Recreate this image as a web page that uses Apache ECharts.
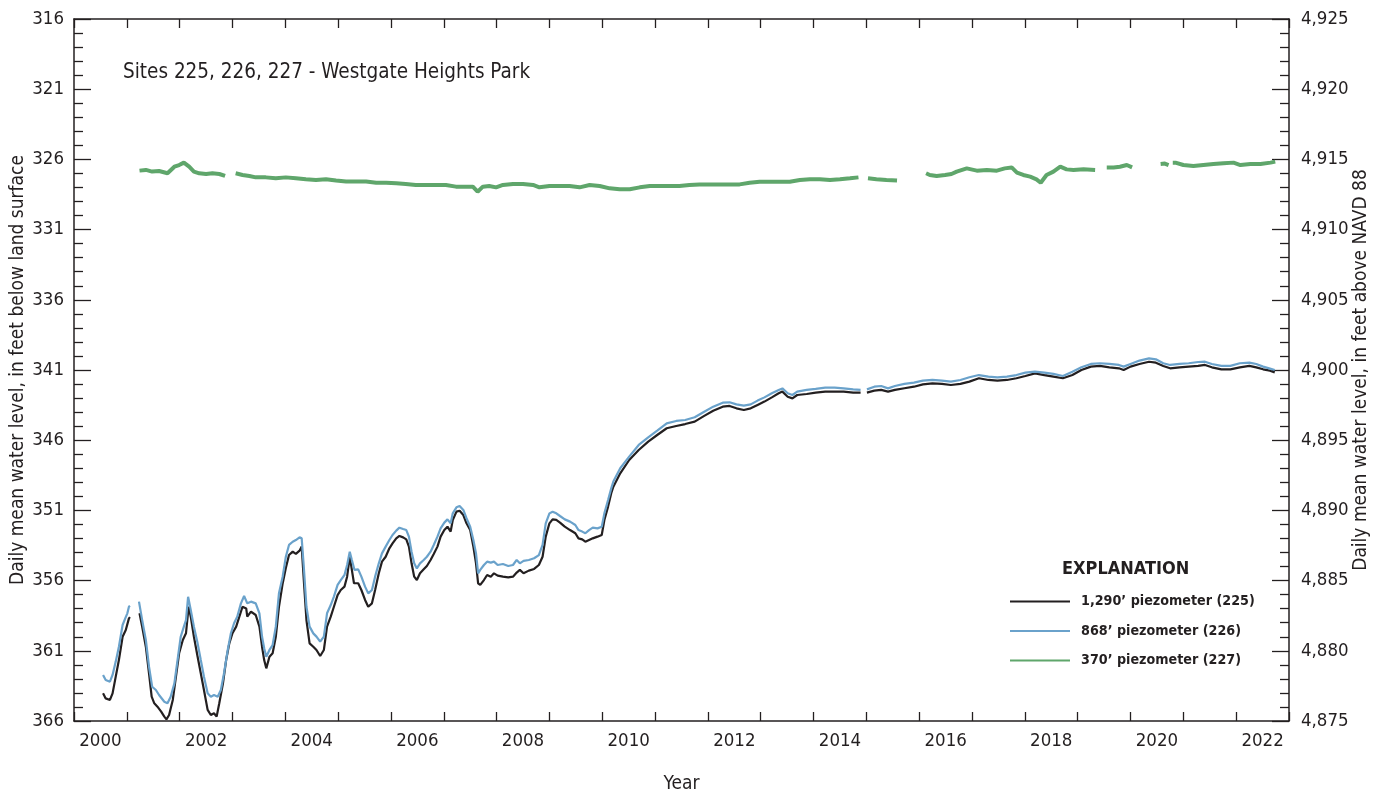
<!DOCTYPE html>
<html>
<head>
<meta charset="utf-8">
<script src="https://cdn.jsdelivr.net/npm/echarts@6/dist/echarts.min.js"></script>
<style>
html,body{margin:0;padding:0;background:#fff;}
#chart{width:1386px;height:793px;}
</style>
</head>
<body>
<div id="chart"></div>
<script>
// ---- Data ----
var xTickLabels = ['2000','2001','2002','2003','2004','2005','2006','2007','2008','2009','2010','2011',
  '2012','2013','2014','2015','2016','2017','2018','2019','2020','2021','2022'];

// 1,290' piezometer (225) - black
var years225 = [2000.55,2000.60,2000.68,2000.73,2000.79,2000.85,2000.92,2000.98,2001.04,2001.06,2001.14,
  2001.24,2001.29,2001.36,2001.42,2001.47,2001.52,2001.58,2001.65,2001.71,2001.75,2001.80,2001.87,2001.93,2001.99,
  2002.06,2002.12,2002.17,2002.21,2002.27,2002.34,2002.40,2002.46,2002.53,2002.59,2002.65,2002.70,2002.75,2002.82,
  2002.88,2002.94,2003.00,2003.07,2003.13,2003.19,2003.26,2003.28,2003.35,2003.44,2003.51,2003.56,2003.60,2003.64,
  2003.70,2003.76,2003.82,2003.88,2003.95,2004.01,2004.07,2004.14,2004.20,2004.27,2004.31,2004.35,2004.40,2004.46,
  2004.53,2004.59,2004.66,2004.73,2004.79,2004.86,2004.92,2004.99,2005.05,2005.12,2005.17,2005.22,2005.25,2005.30,
  2005.38,2005.44,2005.51,2005.57,2005.64,2005.70,2005.77,2005.83,2005.90,2005.97,2006.03,2006.10,2006.16,2006.23,
  2006.29,2006.34,2006.39,2006.44,2006.49,2006.55,2006.62,2006.68,2006.75,2006.81,2006.88,2006.94,2007.01,2007.07,
  2007.13,2007.17,2007.24,2007.30,2007.37,2007.43,2007.50,2007.56,2007.61,2007.65,2007.69,2007.76,2007.82,2007.89,
  2007.95,2008.02,2008.12,2008.22,2008.31,2008.38,2008.44,2008.51,2008.61,2008.71,2008.80,2008.87,2008.93,2009.00,
  2009.06,2009.13,2009.20,2009.29,2009.39,2009.49,2009.55,2009.62,2009.68,2009.75,2009.82,2009.91,2009.99,2010.04,
  2010.11,2010.17,2010.21,2010.34,2010.51,2010.69,2010.87,2011.04,2011.22,2011.40,2011.57,2011.75,2011.93,2012.10,
  2012.28,2012.41,2012.54,2012.68,2012.81,2012.94,2013.07,2013.21,2013.34,2013.41,2013.51,2013.60,2013.69,2013.87,
  2014.04,2014.22,2014.40,2014.57,2014.75,2014.89,2014.95,2015.01,2015.15,2015.28,2015.41,2015.54,2015.72,2015.90,
  2016.07,2016.25,2016.43,2016.60,2016.78,2016.95,2017.13,2017.31,2017.48,2017.66,2017.84,2018.01,2018.19,2018.37,
  2018.54,2018.72,2018.90,2019.07,2019.25,2019.42,2019.60,2019.78,2019.87,2020.00,2020.17,2020.35,2020.48,2020.62,
  2020.75,2020.93,2021.10,2021.28,2021.41,2021.54,2021.72,2021.89,2022.07,2022.25,2022.38,2022.51,2022.64,2022.73];
var depth225 = [364.03,364.39,364.50,364.03,362.84,361.66,360.00,359.52,358.69,358.60,null,
  358.33,359.28,360.71,362.60,364.27,364.74,364.98,365.33,365.69,365.88,365.57,364.50,362.84,361.18,
  360.23,359.75,357.86,358.57,360.00,361.42,362.60,363.79,365.21,365.57,365.45,365.69,364.74,363.32,
  361.66,360.47,359.75,359.28,358.57,357.86,357.98,358.57,358.21,358.45,359.28,360.71,361.66,362.25,
  361.42,361.18,360.00,357.86,356.20,355.10,354.18,353.94,354.10,353.87,353.58,355.96,358.81,360.47,
  360.71,360.94,361.37,360.94,359.28,358.57,357.86,357.03,356.67,356.43,355.72,354.30,355.01,356.19,
  356.19,356.67,357.38,357.86,357.62,356.67,355.48,354.65,354.30,353.70,353.35,352.99,352.82,352.92,
  353.06,353.58,354.77,355.72,355.96,355.48,355.20,354.96,354.53,354.10,353.58,352.87,352.40,352.16,
  352.51,351.68,351.09,351.02,351.33,351.92,352.40,353.58,354.77,356.19,356.31,355.96,355.60,355.72,
  355.48,355.65,355.72,355.77,355.72,355.43,355.24,355.48,355.29,355.17,354.89,354.30,352.87,351.92,
  351.64,351.68,351.87,352.16,352.40,352.63,352.99,353.06,353.23,353.11,352.99,352.87,352.75,351.68,
  350.73,349.78,349.31,348.36,347.41,346.70,346.10,345.63,345.15,344.99,344.85,344.68,344.27,343.90,
  343.61,343.56,343.73,343.85,343.73,343.49,343.25,342.95,342.66,342.54,342.90,343.02,342.78,342.71,
  342.61,342.54,342.54,342.54,342.61,342.61,null,342.61,342.47,342.42,342.54,342.42,342.30,342.19,
  342.02,341.95,341.99,342.07,341.99,341.83,341.59,341.71,341.76,341.71,341.59,341.43,341.24,341.36,
  341.47,341.59,341.36,341.00,340.76,340.71,340.81,340.88,341.00,340.76,340.57,340.41,340.48,340.71,
  340.88,340.81,340.76,340.71,340.64,340.81,340.95,340.95,340.81,340.71,340.81,340.95,341.05,341.17];

// 868' piezometer (226) - blue
var years226 = [2000.55,2000.60,2000.68,2000.73,2000.79,2000.85,2000.92,2000.97,2001.01,2001.04,2001.06,2001.14,
  2001.23,2001.29,2001.36,2001.42,2001.48,2001.55,2001.61,2001.71,2001.77,2001.83,2001.90,2001.96,2002.02,2002.08,
  2002.12,2002.16,2002.21,2002.27,2002.34,2002.40,2002.46,2002.53,2002.59,2002.65,2002.72,2002.78,2002.84,2002.91,
  2002.97,2003.03,2003.09,2003.16,2003.22,2003.28,2003.35,2003.44,2003.51,2003.56,2003.60,2003.64,2003.70,2003.76,
  2003.82,2003.88,2003.95,2004.01,2004.07,2004.14,2004.20,2004.27,2004.31,2004.35,2004.40,2004.46,2004.53,2004.59,
  2004.66,2004.73,2004.79,2004.86,2004.92,2004.99,2005.05,2005.12,2005.17,2005.22,2005.26,2005.31,2005.38,2005.44,
  2005.51,2005.57,2005.64,2005.70,2005.77,2005.83,2005.90,2005.97,2006.03,2006.10,2006.16,2006.23,2006.29,2006.34,
  2006.39,2006.44,2006.49,2006.55,2006.62,2006.68,2006.75,2006.81,2006.88,2006.94,2007.01,2007.07,2007.13,2007.17,
  2007.24,2007.30,2007.37,2007.43,2007.50,2007.56,2007.61,2007.65,2007.69,2007.76,2007.82,2007.89,2007.95,2008.02,
  2008.12,2008.22,2008.31,2008.38,2008.44,2008.51,2008.61,2008.71,2008.80,2008.87,2008.93,2009.00,2009.06,2009.13,
  2009.20,2009.29,2009.39,2009.49,2009.55,2009.62,2009.68,2009.75,2009.82,2009.91,2009.99,2010.04,2010.11,2010.17,
  2010.21,2010.34,2010.51,2010.69,2010.87,2011.04,2011.22,2011.40,2011.57,2011.75,2011.93,2012.10,2012.28,2012.41,
  2012.54,2012.68,2012.81,2012.94,2013.07,2013.21,2013.34,2013.41,2013.51,2013.60,2013.69,2013.87,2014.04,2014.22,
  2014.40,2014.57,2014.75,2014.89,2014.95,2015.01,2015.15,2015.28,2015.41,2015.54,2015.72,2015.90,2016.07,2016.25,
  2016.43,2016.60,2016.78,2016.95,2017.13,2017.31,2017.48,2017.66,2017.84,2018.01,2018.19,2018.37,2018.54,2018.72,
  2018.90,2019.07,2019.25,2019.42,2019.60,2019.78,2019.87,2020.00,2020.17,2020.35,2020.48,2020.62,2020.75,2020.93,
  2021.10,2021.28,2021.41,2021.54,2021.72,2021.89,2022.07,2022.25,2022.38,2022.51,2022.64,2022.73];
var depth226 = [362.72,363.08,363.20,362.72,361.77,360.71,359.16,358.69,358.33,357.86,357.80,null,
  357.50,358.80,360.23,362.13,363.56,363.79,364.15,364.63,364.74,364.27,363.32,361.66,360.00,359.28,
  358.81,357.15,358.09,359.28,360.47,361.66,362.84,364.03,364.27,364.15,364.27,363.79,362.60,360.94,
  359.75,359.04,358.57,357.62,357.10,357.62,357.50,357.62,358.33,360.00,360.82,361.42,360.94,360.59,
  359.28,356.90,355.72,354.30,353.46,353.23,353.11,352.92,352.99,355.01,357.86,359.28,359.76,359.99,
  360.35,359.99,358.33,357.74,357.14,356.31,355.96,355.60,354.89,353.94,354.53,355.24,355.20,355.72,
  356.43,356.91,356.67,355.72,354.77,354.06,353.58,353.11,352.75,352.44,352.23,352.33,352.40,352.87,
  353.94,354.77,355.13,354.77,354.53,354.30,353.94,353.46,352.87,352.28,351.87,351.64,351.92,351.21,
  350.78,350.69,350.97,351.56,352.16,353.11,354.06,355.48,355.24,354.89,354.65,354.72,354.65,354.89,
  354.82,354.96,354.89,354.53,354.77,354.60,354.53,354.41,354.18,353.46,351.92,351.21,351.09,351.21,
  351.40,351.64,351.80,352.04,352.40,352.51,352.63,352.40,352.23,352.28,352.16,351.21,350.26,349.43,
  348.95,348.00,347.17,346.34,345.80,345.32,344.80,344.63,344.56,344.37,343.97,343.61,343.33,343.30,
  343.45,343.54,343.45,343.18,342.95,342.66,342.42,342.31,342.66,342.78,342.54,342.42,342.35,342.26,
  342.26,342.31,342.38,342.42,null,342.38,342.19,342.14,342.31,342.14,341.99,341.90,341.76,341.71,
  341.76,341.83,341.71,341.52,341.36,341.47,341.52,341.47,341.36,341.19,341.12,341.19,341.28,341.43,
  341.12,340.81,340.57,340.52,340.57,340.64,340.76,340.57,340.33,340.17,340.24,340.52,340.64,340.57,
  340.52,340.43,340.41,340.57,340.71,340.71,340.52,340.48,340.57,340.76,340.90,341.00];

// 370' piezometer (227) - green
var years227 = [2001.24,2001.36,2001.48,2001.61,2001.77,2001.90,2001.99,2002.08,2002.18,2002.27,2002.37,2002.50,
  2002.62,2002.75,2002.86,2002.93,2003.06,2003.19,2003.32,2003.44,2003.63,2003.82,2004.01,2004.20,2004.39,2004.58,
  2004.77,2004.96,2005.15,2005.34,2005.53,2005.72,2005.91,2006.10,2006.28,2006.47,2006.66,2006.85,2007.04,2007.23,
  2007.42,2007.55,2007.64,2007.74,2007.86,2007.99,2008.12,2008.31,2008.50,2008.69,2008.81,2009.00,2009.19,2009.38,
  2009.57,2009.76,2009.95,2010.14,2010.33,2010.52,2010.71,2010.90,2011.09,2011.28,2011.46,2011.65,2011.84,2012.03,
  2012.22,2012.41,2012.60,2012.79,2012.98,2013.17,2013.36,2013.55,2013.74,2013.93,2014.12,2014.31,2014.50,2014.69,
  2014.85,2014.94,2015.03,2015.19,2015.38,2015.58,2015.85,2016.13,2016.20,2016.33,2016.49,2016.61,2016.71,2016.90,
  2017.09,2017.28,2017.47,2017.62,2017.75,2017.85,2017.97,2018.10,2018.22,2018.30,2018.41,2018.54,2018.67,2018.79,
  2018.92,2019.11,2019.33,2019.44,2019.55,2019.68,2019.80,2019.93,2020.03,2020.30,2020.57,2020.65,2020.72,2020.76,
  2020.80,2020.85,2021.00,2021.19,2021.38,2021.57,2021.76,2021.95,2022.08,2022.27,2022.46,2022.65,2022.74];
var depth227 = [326.80,326.75,326.87,326.83,326.99,326.52,326.40,326.23,326.52,326.87,326.99,327.04,
  326.99,327.04,327.18,null,326.99,327.11,327.18,327.28,327.28,327.35,327.28,327.35,327.42,327.47,
  327.42,327.51,327.58,327.58,327.58,327.66,327.66,327.70,327.75,327.82,327.82,327.82,327.82,327.94,
  327.94,327.94,328.30,327.94,327.89,327.99,327.82,327.75,327.75,327.82,327.99,327.89,327.89,327.89,
  327.99,327.82,327.89,328.06,328.13,328.13,327.99,327.89,327.89,327.89,327.89,327.82,327.78,327.78,
  327.78,327.78,327.78,327.66,327.59,327.59,327.59,327.59,327.47,327.42,327.42,327.47,327.42,327.35,
  327.28,null,327.35,327.42,327.47,327.51,null,326.99,327.11,327.18,327.11,327.04,326.87,326.64,
  326.80,326.75,326.80,326.64,326.57,326.94,327.11,327.23,327.42,327.66,327.11,326.87,326.52,326.71,
  326.75,326.71,326.75,null,326.57,326.57,326.52,326.40,326.57,null,326.33,326.30,326.40,null,
  326.23,326.23,326.40,326.47,326.40,326.33,326.28,326.23,326.40,326.33,326.33,326.23,326.16];

// ---- Helpers ----
function pairs(xs, ys) {
  return xs.map(function (x, i) { return [x, ys[i] === null ? '-' : ys[i]]; });
}

var FONT = "'Liberation Sans Narrow', 'DejaVu Sans Condensed', 'Roboto Condensed', sans-serif";
var INK = '#231f20';
var C225 = '#231f20', C226 = '#6aa2cb', C227 = '#5fa66b';

var chart = echarts.init(document.getElementById('chart'), null, { renderer: 'canvas' });

var tickCommon = { show: true, inside: true, length: 17, lineStyle: { color: INK, width: 1.3 } };
var minorCommon = { show: true, splitNumber: 5, length: 9, lineStyle: { color: INK, width: 1.3 } };

chart.setOption({
  animation: false,
  backgroundColor: '#ffffff',
  textStyle: { fontFamily: FONT, color: INK },
  title: [
    { text: 'Sites 225, 226, 227 - Westgate Heights Park', left: 118, top: 57,
      textStyle: { fontFamily: FONT, fontSize: 20.5, fontWeight: 'normal', color: INK } },
    { text: 'EXPLANATION', left: 1057, top: 555,
      textStyle: { fontFamily: FONT, fontSize: 18, fontWeight: 'bold', color: INK } }
  ],
  legend: {
    data: ['1,290\u2019 piezometer (225)', '868\u2019 piezometer (226)', '370\u2019 piezometer (227)'],
    orient: 'vertical', left: 1005, top: 588,
    icon: 'rect', itemWidth: 60, itemHeight: 2, itemGap: 12.5,
    textStyle: { fontFamily: FONT, fontSize: 14.2, fontWeight: 'bold', color: INK,
      padding: [0, 0, 0, 6], lineHeight: 17 }
  },
  grid: { left: 74, top: 19, width: 1215, height: 702, containLabel: false, outerBoundsMode: 'none' },
  xAxis: [
    { type: 'value', min: 2000, max: 2023, interval: 1, position: 'bottom',
      axisLine: { show: true, onZero: false, lineStyle: { color: INK, width: 1.5 } },
      axisTick: { show: true, inside: true, length: 9, lineStyle: { color: INK, width: 1.3 } },
      axisLabel: { show: false }, splitLine: { show: false },
      name: 'Year', nameLocation: 'middle', nameGap: 54, nameMoveOverlap: false,
      nameTextStyle: { fontFamily: FONT, fontSize: 19, color: INK } },
    { type: 'category', data: xTickLabels, boundaryGap: true, position: 'bottom',
      axisLine: { show: false }, axisTick: { show: false },
      axisLabel: { interval: 1, fontFamily: FONT, fontSize: 18.5, color: INK, margin: 11 },
      splitLine: { show: false } },
    { type: 'value', min: 2000, max: 2023, interval: 1, position: 'top',
      axisLine: { show: true, onZero: false, lineStyle: { color: INK, width: 1.5 } },
      axisTick: { show: true, inside: true, length: 9, lineStyle: { color: INK, width: 1.3 } },
      axisLabel: { show: false }, splitLine: { show: false } }
  ],
  yAxis: [
    { type: 'value', inverse: true, min: 316, max: 366, interval: 5, position: 'left',
      axisLine: { show: true, onZero: false, lineStyle: { color: INK, width: 1.5 } },
      axisTick: tickCommon, minorTick: minorCommon,
      axisLabel: { fontFamily: FONT, fontSize: 18.5, color: INK, margin: 10 },
      splitLine: { show: false }, minorSplitLine: { show: false },
      name: 'Daily mean water level, in feet below land surface', nameLocation: 'middle', nameGap: 46,
      nameMoveOverlap: false,
      nameTextStyle: { fontFamily: FONT, fontSize: 19, color: INK } },
    { type: 'value', min: 4875, max: 4925, interval: 5, position: 'right',
      axisLine: { show: true, onZero: false, lineStyle: { color: INK, width: 1.5 } },
      axisTick: tickCommon, minorTick: minorCommon,
      axisLabel: { fontFamily: FONT, fontSize: 18.5, color: INK, margin: 12,
        formatter: function (v) { return v.toLocaleString('en-US'); } },
      splitLine: { show: false }, minorSplitLine: { show: false },
      name: 'Daily mean water level, in feet above NAVD 88', nameLocation: 'middle', nameGap: 63,
      nameRotate: 90, nameMoveOverlap: false,
      nameTextStyle: { fontFamily: FONT, fontSize: 19, color: INK } }
  ],
  series: [
    { name: '1,290\u2019 piezometer (225)', type: 'line', xAxisIndex: 0, yAxisIndex: 0,
      data: pairs(years225, depth225), symbol: 'none', showSymbol: false, connectNulls: false,
      lineStyle: { color: C225, width: 2.2 }, itemStyle: { color: C225 }, z: 3 },
    { name: '868\u2019 piezometer (226)', type: 'line', xAxisIndex: 0, yAxisIndex: 0,
      data: pairs(years226, depth226), symbol: 'none', showSymbol: false, connectNulls: false,
      lineStyle: { color: C226, width: 2.2 }, itemStyle: { color: C226 }, z: 4 },
    { name: '370\u2019 piezometer (227)', type: 'line', xAxisIndex: 0, yAxisIndex: 0,
      data: pairs(years227, depth227), symbol: 'none', showSymbol: false, connectNulls: false,
      lineStyle: { color: C227, width: 4 }, itemStyle: { color: C227 }, z: 2 }
  ]
});
</script>
</body>
</html>
